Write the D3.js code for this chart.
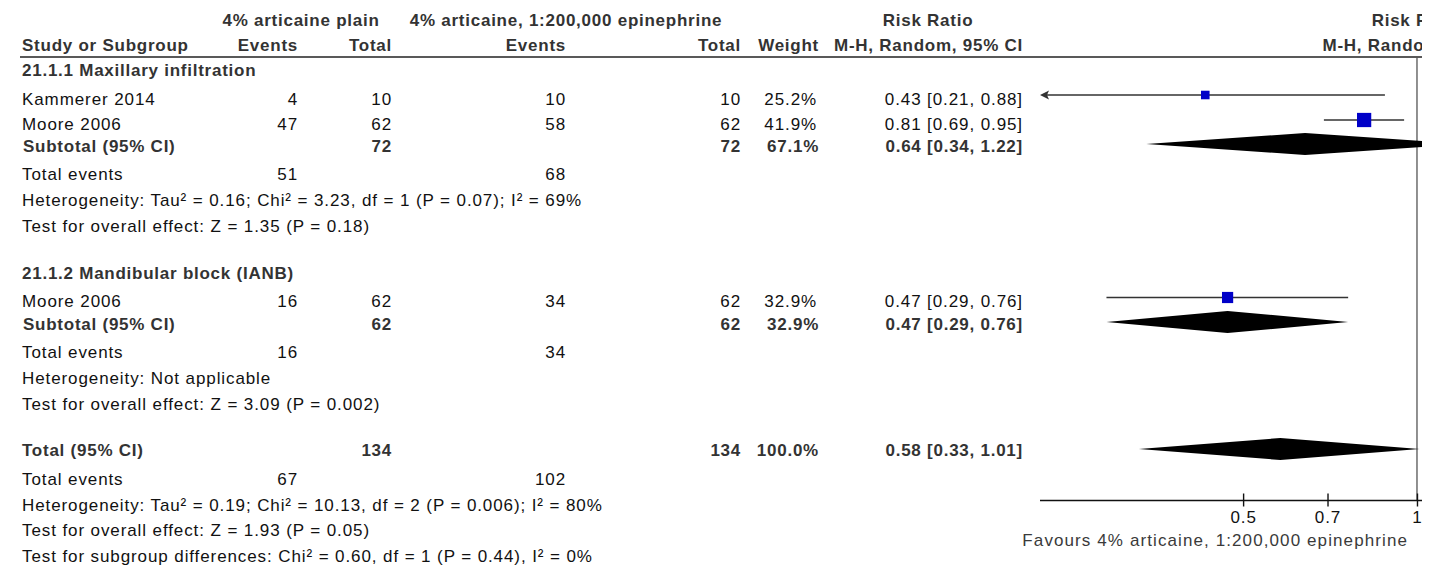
<!DOCTYPE html>
<html>
<head>
<meta charset="utf-8">
<script src="https://cdn.jsdelivr.net/npm/d3@7"></script>
<style>
  html, body { margin: 0; padding: 0; background: #fff; }
  svg { display: block; }
  .reg { font-family: "Liberation Sans", Arial, sans-serif; font-size: 17px; letter-spacing: 0.9px; fill: #111; }
  .bold { font-family: "Liberation Sans", Arial, sans-serif; font-size: 17px; font-weight: bold; letter-spacing: 0.75px; fill: #333; }
</style>
</head>
<body>
<svg id="chart" width="1439" height="566"></svg>
<script>
// ---------------- data ----------------
const groupTitles = ["21.1.1 Maxillary infiltration", "21.1.2 Mandibular block (IANB)"];
const studyNames = ["Kammerer 2014", "Moore 2006", "Moore 2006"];
const studyGroup = [0, 0, 1];
const expEvents = [4, 47, 16];
const expTotal = [10, 62, 62];
const ctrlEvents = [10, 58, 34];
const ctrlTotal = [10, 62, 62];
const weights = [25.2, 41.9, 32.9];
const rrPoint = [0.43, 0.81, 0.47];
const rrLower = [0.21, 0.69, 0.29];
const rrUpper = [0.88, 0.95, 0.76];

const subExpTotal = [72, 62];
const subCtrlTotal = [72, 62];
const subWeight = ["67.1%", "32.9%"];
const subRR = [0.64, 0.47];
const subLower = [0.34, 0.29];
const subUpper = [1.22, 0.76];
const subExpEvents = [51, 16];
const subCtrlEvents = [68, 34];
const subHet = ["Heterogeneity: Tau\u00B2 = 0.16; Chi\u00B2 = 3.23, df = 1 (P = 0.07); I\u00B2 = 69%",
                "Heterogeneity: Not applicable"];
const subTest = ["Test for overall effect: Z = 1.35 (P = 0.18)",
                 "Test for overall effect: Z = 3.09 (P = 0.002)"];

const totExpTotal = 134, totCtrlTotal = 134, totWeight = "100.0%";
const totRR = 0.58, totLower = 0.33, totUpper = 1.01;
const totExpEvents = 67, totCtrlEvents = 102;
const totNotes = ["Heterogeneity: Tau\u00B2 = 0.19; Chi\u00B2 = 10.13, df = 2 (P = 0.006); I\u00B2 = 80%",
                  "Test for overall effect: Z = 1.93 (P = 0.05)",
                  "Test for subgroup differences: Chi\u00B2 = 0.60, df = 1 (P = 0.44), I\u00B2 = 0%"];

const tickValues = [0.5, 0.7, 1];
const favoursLeft = "Favours 4% articaine, 1:200,000 epinephrine";

// ---------------- layout ----------------
const svg = d3.select("#chart");
svg.append("defs").append("clipPath").attr("id", "clip")
  .append("rect").attr("x", 0).attr("y", 0).attr("width", 1422).attr("height", 566);
const g = svg.append("g").attr("clip-path", "url(#clip)");

const colX = { study: 22, expEv: 298, expTot: 392, ctrlEv: 566, ctrlTot: 741, weight: 819, ci: 1023 };
const x = d3.scaleLog().domain([0.2225, 4.495]).range([1040, 1794]);
const sq = d3.scaleLinear().domain([0, 100]).range([0, 34]);
const axisY = 500.5;
const diamondHalf = 11;

// baselines for rows
const yGroup = [76, 279];
const yStudy = [105, 130, 307];
const yStudyMark = [95, 120, 297.5];
const ySub = [152, 330];
const ySubMark = [144, 322];
const ySubEvents = [180, 358];
const ySubHet = [206, 384];
const ySubTest = [232, 410];
const yTot = 456, yTotMark = 449, yTotEvents = 485, yTotNotes = [511, 536, 562];

function txt(cls, s, xx, yy, anchor) {
  return g.append("text").attr("class", cls).attr("x", xx).attr("y", yy)
    .attr("text-anchor", anchor || "start").text(s);
}
const fmt2 = d3.format(".2f");
const ciText = (p, l, u) => `${fmt2(p)} [${fmt2(l)}, ${fmt2(u)}]`;

// headers
txt("bold", "4% articaine plain", 301, 26, "middle");
txt("bold", "4% articaine, 1:200,000 epinephrine", 566, 26, "middle");
txt("bold", "Risk Ratio", 928, 26, "middle");
txt("bold", "Risk Ratio", x(1), 26, "middle");
txt("bold", "Study or Subgroup", colX.study, 51);
txt("bold", "Events", colX.expEv, 51, "end");
txt("bold", "Total", colX.expTot, 51, "end");
txt("bold", "Events", colX.ctrlEv, 51, "end");
txt("bold", "Total", colX.ctrlTot, 51, "end");
txt("bold", "Weight", colX.weight, 51, "end");
txt("bold", "M-H, Random, 95% CI", colX.ci, 51, "end");
txt("bold", "M-H, Random, 95% CI", x(1), 51, "middle");
g.append("line").attr("x1", 20).attr("x2", 1422).attr("y1", 57).attr("y2", 57)
  .attr("stroke", "#222").attr("stroke-width", 1.6);

// null line
g.append("line").attr("x1", x(1)).attr("x2", x(1)).attr("y1", 57.5).attr("y2", axisY)
  .attr("stroke", "#555").attr("stroke-width", 1.3);

function diamond(lo, p, hi, yy) {
  g.append("path")
    .attr("d", `M${x(lo)},${yy} L${x(p)},${yy - diamondHalf} L${x(hi)},${yy} L${x(p)},${yy + diamondHalf} Z`)
    .attr("fill", "#000");
}

// groups
groupTitles.forEach((t, gi) => {
  txt("bold", t, colX.study, yGroup[gi]);
  txt("bold", "Subtotal (95% CI)", colX.study + 1, ySub[gi]);
  txt("bold", subExpTotal[gi], colX.expTot, ySub[gi], "end");
  txt("bold", subCtrlTotal[gi], colX.ctrlTot, ySub[gi], "end");
  txt("bold", subWeight[gi], colX.weight, ySub[gi], "end");
  txt("bold", ciText(subRR[gi], subLower[gi], subUpper[gi]), colX.ci, ySub[gi], "end");
  txt("reg", "Total events", colX.study, ySubEvents[gi]);
  txt("reg", subExpEvents[gi], colX.expEv, ySubEvents[gi], "end");
  txt("reg", subCtrlEvents[gi], colX.ctrlEv, ySubEvents[gi], "end");
  txt("reg", subHet[gi], colX.study, ySubHet[gi]);
  txt("reg", subTest[gi], colX.study, ySubTest[gi]);
  diamond(subLower[gi], subRR[gi], subUpper[gi], ySubMark[gi]);
});

// studies
studyNames.forEach((n, i) => {
  const yy = yStudy[i];
  txt("reg", n, colX.study, yy);
  txt("reg", expEvents[i], colX.expEv, yy, "end");
  txt("reg", expTotal[i], colX.expTot, yy, "end");
  txt("reg", ctrlEvents[i], colX.ctrlEv, yy, "end");
  txt("reg", ctrlTotal[i], colX.ctrlTot, yy, "end");
  txt("reg", d3.format(".1f")(weights[i]) + "%", colX.weight - 2, yy, "end");
  txt("reg", ciText(rrPoint[i], rrLower[i], rrUpper[i]), colX.ci, yy, "end");

  const my = yStudyMark[i];
  const xmin = x.range()[0];
  const clipped = rrLower[i] < x.domain()[0];
  const x1 = clipped ? xmin + 4 : x(rrLower[i]);
  g.append("line").attr("x1", x1).attr("x2", x(rrUpper[i])).attr("y1", my).attr("y2", my)
    .attr("stroke", "#333").attr("stroke-width", 1.6);
  if (clipped) {
    g.append("path")
      .attr("d", `M${xmin},${my} L${xmin + 9},${my - 4.5} L${xmin + 7},${my} L${xmin + 9},${my + 4.5} Z`)
      .attr("fill", "#333");
  }
  const s = sq(weights[i]);
  g.append("rect").attr("x", x(rrPoint[i]) - s / 2).attr("y", my - s / 2)
    .attr("width", s).attr("height", s).attr("fill", "#0000c8");
});

// total
txt("bold", "Total (95% CI)", colX.study, yTot);
txt("bold", totExpTotal, colX.expTot, yTot, "end");
txt("bold", totCtrlTotal, colX.ctrlTot, yTot, "end");
txt("bold", totWeight, colX.weight, yTot, "end");
txt("bold", ciText(totRR, totLower, totUpper), colX.ci, yTot, "end");
txt("reg", "Total events", colX.study, yTotEvents);
txt("reg", totExpEvents, colX.expEv, yTotEvents, "end");
txt("reg", totCtrlEvents, colX.ctrlEv, yTotEvents, "end");
totNotes.forEach((t, i) => txt("reg", t, colX.study, yTotNotes[i]));
diamond(totLower, totRR, totUpper, yTotMark);

// axis (line runs to the clipped right edge)
g.append("line").attr("x1", x.range()[0]).attr("x2", 1422).attr("y1", axisY).attr("y2", axisY)
  .attr("stroke", "#111").attr("stroke-width", 1.6);
const axis = d3.axisBottom(x).tickValues(tickValues).tickFormat(d3.format("")).tickSize(6).tickSizeOuter(0);
const ag = g.append("g").attr("transform", `translate(0,${axisY})`).call(axis);
ag.select(".domain").remove();
ag.selectAll(".tick line").attr("y1", -7).attr("y2", 6).attr("stroke", "#111").attr("stroke-width", 1.4);
ag.selectAll(".tick text").attr("class", "reg").attr("y", 22).attr("dy", 0)
  .style("font-size", "17px").attr("fill", "#111");
ag.attr("font-family", null).attr("font-size", null);

txt("reg", favoursLeft, 1408, 546, "end").style("fill", "#3a3a3a").style("letter-spacing", "1.1px");
</script>
</body>
</html>
